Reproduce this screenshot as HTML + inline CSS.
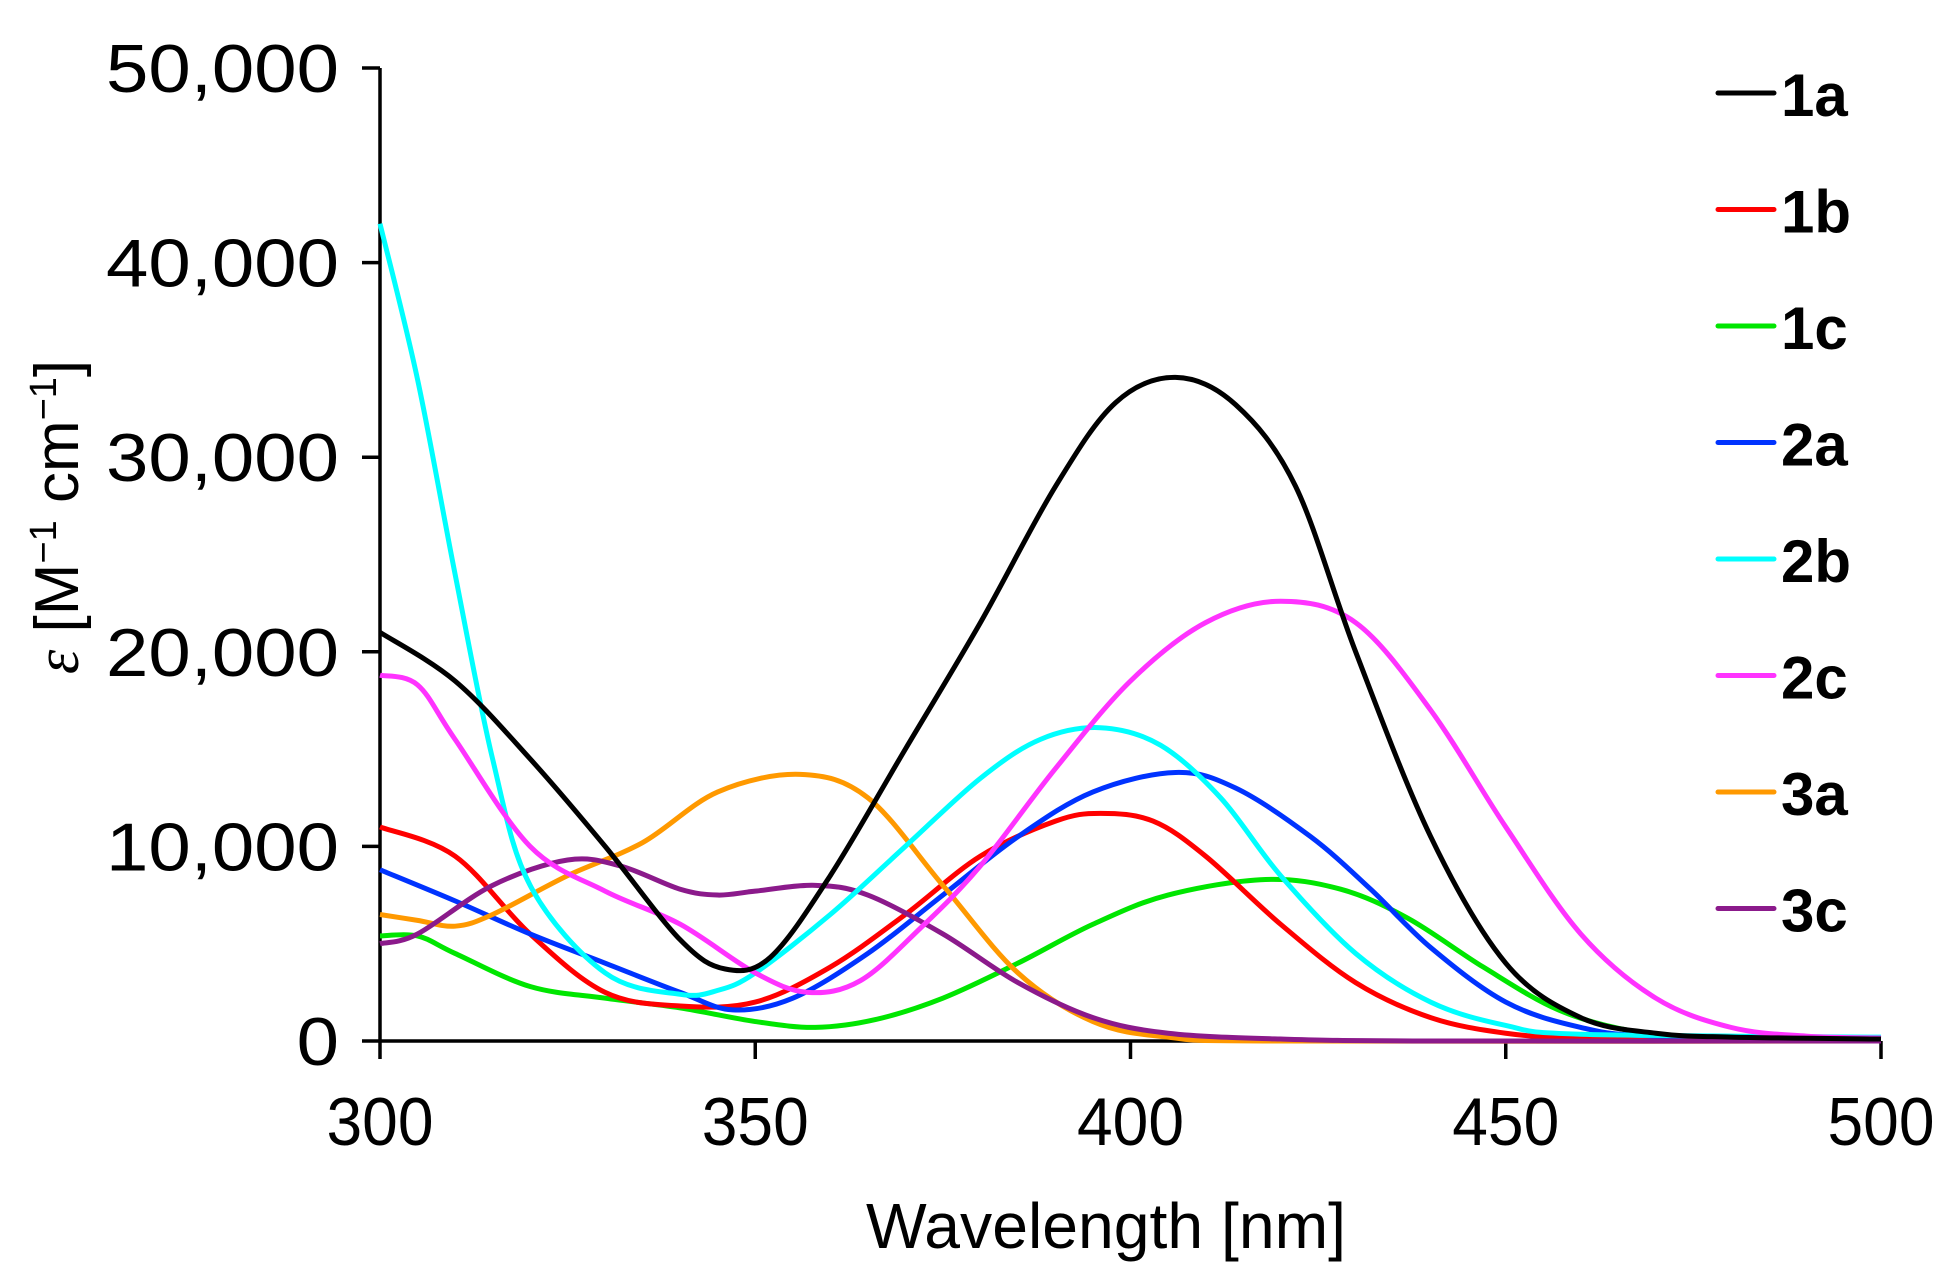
<!DOCTYPE html>
<html><head><meta charset="utf-8"><style>
html,body{margin:0;padding:0;background:#fff}
svg{display:block;font-family:"Liberation Sans",Arial,sans-serif}
</style></head><body>
<svg id="chart" width="1957" height="1270" viewBox="0 0 1957 1270" xmlns="http://www.w3.org/2000/svg">
<g id="axes"></g>
<g id="series"></g>
<g id="legend"></g>
<text x="1106" y="1248" font-size="64" text-anchor="middle" fill="#000" textLength="480" lengthAdjust="spacingAndGlyphs">Wavelength [nm]</text>
<text transform="translate(78,517) rotate(-90)" font-size="62" text-anchor="middle" fill="#000"><tspan font-family="Liberation Serif" font-style="italic">ε</tspan> [M<tspan font-size="38" dy="-22">−1</tspan><tspan dy="22"> cm</tspan><tspan font-size="38" dy="-22">−1</tspan><tspan dy="22">]</tspan></text>
</svg>
<script>
const xTicks=[300,350,400,450,500];
const yTicks=[0,10000,20000,30000,40000,50000];
const yTickLabels=["0","10,000","20,000","30,000","40,000","50,000"];
const seriesNames=["1a","1b","1c","2a","2b","2c","3a","3c"];
const seriesColors=["#000000","#ff0000","#00e600","#0033ff","#00ffff","#ff33ff","#ff9900","#8b1a8b"];
const wl1a=[300,310,320,330,340,346,352,360,370,380,390,398,406,414,422,430,440,450,460,470,480,500];
const v1a=[21000,18500,14500,10000,5200,3700,4300,8500,15000,21500,28500,32800,34100,32700,28500,20000,10500,4000,1200,400,200,100];
const wl1b=[300,310,320,330,340,350,360,370,380,390,396,403,410,420,430,440,450,460,480,500];
const v1b=[11000,9500,5500,2500,1800,2000,3800,6500,9500,11300,11700,11300,9500,6000,3000,1200,400,150,50,0];
const wl1c=[300,305,310,320,330,340,350,358,366,375,385,395,405,418,428,437,447,457,467,477,500];
const v1c=[5400,5400,4500,2800,2200,1700,1000,700,1100,2200,4000,6000,7500,8300,7800,6300,3800,1600,500,200,100];
const wl2a=[300,310,320,330,340,347,355,365,375,385,395,406,414,424,432,440,450,460,470,500];
const v2a=[8800,7200,5500,4000,2500,1600,2200,4500,7500,10500,12800,13800,13000,10500,7800,4800,2000,700,250,100];
const wl2b=[300,305,310,315,320,330,340,345,350,360,370,380,388,396,404,412,420,430,440,450,460,500];
const v2b=[42000,34000,24000,14500,8000,3500,2400,2600,3500,6500,10000,13500,15500,16100,15200,12500,8500,4500,2000,800,350,200];
const wl2c=[300,305,310,320,330,340,350,357,364,372,380,390,400,410,420,430,440,450,460,470,480,490,500];
const v2c=[18800,18300,15500,10000,7700,6000,3500,2500,3100,5800,9000,14000,18500,21500,22600,21500,17000,11000,5500,2200,700,250,150];
const wl3a=[300,305,310,315,325,335,345,356,365,375,385,395,405,420,500];
const v3a=[6500,6200,5900,6500,8500,10200,12800,13700,12500,8000,3500,1000,200,0,0];
const wl3c=[300,305,315,325,332,340,345,350,358,365,375,385,395,405,420,440,500];
const v3c=[5000,5500,8000,9300,9000,7800,7500,7700,8000,7500,5500,3000,1200,400,100,0,0];
const allWl=[wl1a,wl1b,wl1c,wl2a,wl2b,wl2c,wl3a,wl3c];
const allV=[v1a,v1b,v1c,v2a,v2b,v2c,v3a,v3c];

const NS="http://www.w3.org/2000/svg";
const X0=380,X1=1881,Y0=1041,Y1=68;
function xs(w){return X0+(w-300)/(500-300)*(X1-X0);}
function ys(v){return Y0-(v-0)/(50000-0)*(Y0-Y1);}
function mk(tag,attrs,parent){const e=document.createElementNS(NS,tag);for(const k in attrs)e.setAttribute(k,attrs[k]);parent.appendChild(e);return e;}
const axes=document.getElementById('axes');
let ax=mk('line',{x1:X0,y1:Y1,x2:X0,y2:Y0,stroke:'#000','stroke-width':3.5},axes);


ax=mk('line',{x1:X0,y1:Y0,x2:X1,y2:Y0,stroke:'#000','stroke-width':3.5},axes);


yTicks.forEach((t,i)=>{
  const l=mk('line',{x1:X0-18,y1:ys(t),x2:X0,y2:ys(t),stroke:'#000','stroke-width':3.5},axes);
  
  
  const tx=mk('text',{x:339,y:ys(t)+24,'font-size':68,'text-anchor':'end',fill:'#000'},axes);
  tx.textContent=yTickLabels[i];
  
  
  const w=tx.getComputedTextLength();
  tx.setAttribute('textLength',w*1.12);
  tx.setAttribute('lengthAdjust','spacingAndGlyphs');
});
xTicks.forEach(t=>{
  const l=mk('line',{x1:xs(t),y1:Y0,x2:xs(t),y2:Y0+18,stroke:'#000','stroke-width':3.5},axes);
  
  
  const tx=mk('text',{x:xs(t),y:1145,'font-size':68,'text-anchor':'middle',fill:'#000',textLength:107,lengthAdjust:'spacingAndGlyphs'},axes);
  tx.textContent=String(t);
  
  
});
function smoothPath(pts){
  let d=`M${pts[0][0]},${pts[0][1]}`;
  for(let i=0;i<pts.length-1;i++){
    const p0=pts[Math.max(0,i-1)],p1=pts[i],p2=pts[i+1],p3=pts[Math.min(pts.length-1,i+2)];
    const c1x=p1[0]+(p2[0]-p0[0])/6,c1y=p1[1]+(p2[1]-p0[1])/6;
    const c2x=p2[0]-(p3[0]-p1[0])/6,c2y=p2[1]-(p3[1]-p1[1])/6;
    d+=` C${c1x},${c1y} ${c2x},${c2y} ${p2[0]},${p2[1]}`;
  }
  return d;
}
const sg=document.getElementById('series');
const lg=document.getElementById('legend');
const drawOrder=[2,1,3,6,7,4,5,0];
drawOrder.forEach(i=>{
  const pts=allWl[i].map((w,j)=>[xs(w),ys(allV[i][j])]);
  const p=mk('path',{d:smoothPath(pts),fill:'none',stroke:seriesColors[i],'stroke-width':5,'stroke-linejoin':'round'},sg);
  
  
});
seriesNames.forEach((n,i)=>{
  const y=93+i*116.5;
  const l=mk('line',{x1:1718,y1:y,x2:1774,y2:y,stroke:seriesColors[i],'stroke-width':5,'stroke-linecap':'round'},lg);
  
  
  const t=mk('text',{x:1781,y:y+23,'font-size':60,'font-weight':'bold',fill:'#000'},lg);
  t.textContent=n;
  
  
});
</script>
</body></html>
